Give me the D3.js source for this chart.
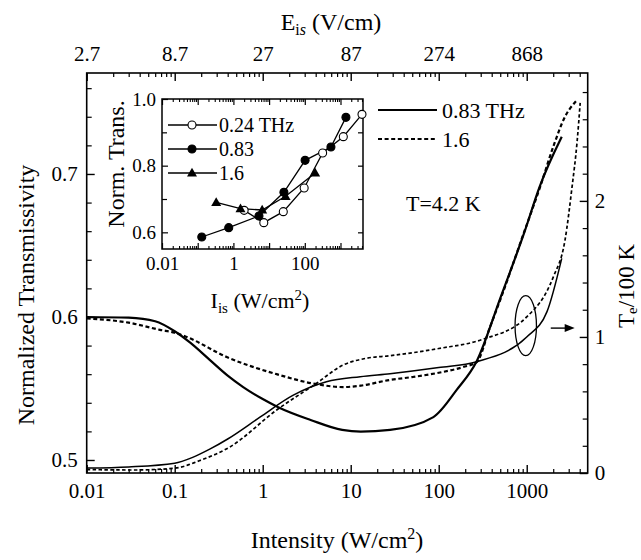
<!DOCTYPE html>
<html><head><meta charset="utf-8">
<script src="https://cdn.jsdelivr.net/npm/d3@7"></script>
<style>
body{margin:0;background:#fff}
svg{display:block}
text{font-family:"Liberation Serif","Times New Roman",serif;fill:#000}
</style>
</head><body>
<svg id="c" width="641" height="560"></svg>
<script>
// ---------- data ----------
// Main panel: Normalized transmissivity (left axis)
const iTrans083 = [0.01, 0.03, 0.06, 0.1, 0.15, 0.25, 0.4, 0.6, 1.0, 1.5, 3.5, 8, 13, 28, 87, 160, 270, 500, 950, 1400, 2500];
const trans083  = [0.600, 0.5995, 0.597, 0.590, 0.582, 0.570, 0.559, 0.551, 0.5426, 0.5369, 0.528, 0.521, 0.5198, 0.521, 0.530, 0.549, 0.569, 0.613, 0.660, 0.691, 0.726];
const iTrans16  = [0.01, 0.03, 0.068, 0.1, 0.137, 0.39, 1.44, 4.1, 8.2, 13, 28, 50, 100, 190, 270, 383, 500, 955, 1420, 2000, 2720, 3650];
const trans16   = [0.599, 0.596, 0.591, 0.589, 0.586, 0.572, 0.560, 0.553, 0.551, 0.552, 0.556, 0.558, 0.561, 0.565, 0.5685, 0.593, 0.612, 0.661, 0.691, 0.719, 0.740, 0.751];
// Main panel: electron temperature Te/100 K (right axis)
const iTe083 = [0.01, 0.03, 0.1, 0.16, 0.25, 0.4, 0.93, 2.2, 5.3, 12.8, 28, 100, 270, 1000, 1700, 2500];
const te083  = [0.037, 0.045, 0.072, 0.115, 0.175, 0.25, 0.41, 0.57, 0.67, 0.708, 0.73, 0.775, 0.818, 1.0, 1.186, 1.578];
const iTe16  = [0.01, 0.034, 0.1, 0.19, 0.42, 1.44, 4.1, 8.2, 15, 28, 100, 300, 1000, 2000, 2720, 3270, 3730, 4050];
const te16   = [0.025, 0.022, 0.035, 0.09, 0.19, 0.463, 0.66, 0.794, 0.843, 0.862, 0.915, 0.978, 1.147, 1.44, 1.71, 2.10, 2.43, 2.72];
// Inset: measured normalized transmission
const iIn024 = [2.0, 7.1, 25, 96, 316, 1200, 4000];
const vIn024 = [0.666, 0.629, 0.662, 0.733, 0.838, 0.887, 0.954];
const iIn083 = [0.13, 0.74, 5.2, 26, 102, 540, 1420];
const vIn083 = [0.586, 0.614, 0.649, 0.720, 0.816, 0.856, 0.945];
const iIn16  = [0.33, 1.58, 6.4, 29, 195];
const vIn16  = [0.690, 0.671, 0.667, 0.708, 0.778];
// tick labels
const bottomTicks = [0.01, 0.1, 1, 10, 100, 1000];
const bottomLabels = ["0.01", "0.1", "1", "10", "100", "1000"];
const topLabels = ["2.7", "8.7", "27", "87", "274", "868"];
const leftTicks = [0.5, 0.6, 0.7];
const rightTicks = [0, 1, 2];
const insetXTicks = [0.01, 1, 100];
const insetXLabels = ["0.01", "1", "100"];
const insetYTicks = [0.6, 0.8, 1.0];
const mainLegend = ["0.83 THz", "1.6"];
const insetLegend = ["0.24 THz", "0.83", "1.6"];

// ---------- helpers ----------
const svg = d3.select("#c");
const zip = (a, b) => a.map((v, i) => [v, b[i]]);
function logMinors(dom) {
  const out = [];
  for (let e = Math.floor(Math.log10(dom[0])); e <= Math.ceil(Math.log10(dom[1])); e++)
    for (let m = 2; m <= 9; m++) { const v = m * Math.pow(10, e); if (v > dom[0] && v < dom[1]) out.push(v); }
  return out;
}
function linMinors(a, b, step, majors) {
  const out = [];
  for (let v = a; v <= b + 1e-9; v += step) {
    const r = Math.round(v * 1000) / 1000;
    if (!majors.some(m => Math.abs(m - r) < 1e-6)) out.push(r);
  }
  return out;
}
function axis(g, gen, sw) {
  g.call(gen);
  g.select(".domain").remove();
  g.selectAll(".tick line").attr("stroke", "#000").attr("stroke-width", sw);
  g.selectAll(".tick text").attr("fill", "#000").style("font-family", '"Liberation Serif","Times New Roman",serif');
  return g;
}

// ---------- main panel ----------
const L = 86.7, R = 587.7, T = 73, B = 473;
const x = d3.scaleLog().domain([0.01, 4930]).range([L, R]);
const yL = d3.scaleLinear().domain([0.4909, 0.7706]).range([B, T]);
const yR = d3.scaleLinear().domain([0, 2.94]).range([B, T]);

// bottom
axis(svg.append("g").attr("transform", `translate(0,${B})`),
  d3.axisBottom(x).tickValues(bottomTicks).tickSize(-8).tickSizeOuter(0).tickPadding(10)
    .tickFormat((d, i) => bottomLabels[i]), 1.4).selectAll("text").style("font-size", "21px");
axis(svg.append("g").attr("transform", `translate(0,${B})`),
  d3.axisBottom(x).tickValues(logMinors(x.domain())).tickSize(-4).tickSizeOuter(0).tickFormat(""), 1.2);
// top
axis(svg.append("g").attr("transform", `translate(0,${T})`),
  d3.axisTop(x).tickValues(bottomTicks).tickSize(-8).tickSizeOuter(0).tickPadding(12)
    .tickFormat((d, i) => topLabels[i]), 1.4).selectAll("text").style("font-size", "21px");
axis(svg.append("g").attr("transform", `translate(0,${T})`),
  d3.axisTop(x).tickValues(logMinors(x.domain())).tickSize(-4).tickSizeOuter(0).tickFormat(""), 1.2);
// left
axis(svg.append("g").attr("transform", `translate(${L},0)`),
  d3.axisLeft(yL).tickValues(leftTicks).tickSize(-8).tickSizeOuter(0).tickPadding(9)
    .tickFormat(d3.format(".1f")), 1.4).selectAll("text").style("font-size", "21px");
axis(svg.append("g").attr("transform", `translate(${L},0)`),
  d3.axisLeft(yL).tickValues(linMinors(0.5, 0.76, 0.02, leftTicks)).tickSize(-5).tickSizeOuter(0).tickFormat(""), 1.2);
// right
axis(svg.append("g").attr("transform", `translate(${R},0)`),
  d3.axisRight(yR).tickValues(rightTicks).tickSize(-8).tickSizeOuter(0).tickPadding(7)
    .tickFormat(d3.format("d")), 1.4).selectAll("text").style("font-size", "21px");
axis(svg.append("g").attr("transform", `translate(${R},0)`),
  d3.axisRight(yR).tickValues(linMinors(0, 2.8, 0.2, rightTicks)).tickSize(-5).tickSizeOuter(0).tickFormat(""), 1.2);

svg.append("rect").attr("x", L).attr("y", T).attr("width", R - L).attr("height", B - T)
  .attr("fill", "none").attr("stroke", "#000").attr("stroke-width", 1.6);

// curves
const lineL = d3.line().x(d => x(d[0])).y(d => yL(d[1])).curve(d3.curveMonotoneX);
const lineR = d3.line().x(d => x(d[0])).y(d => yR(d[1])).curve(d3.curveMonotoneX);
const dash = "4,2.6";
svg.append("path").attr("d", lineL(zip(iTrans083, trans083))).attr("fill", "none").attr("stroke", "#000").attr("stroke-width", 2.2);
svg.append("path").attr("d", lineL(zip(iTrans16, trans16))).attr("fill", "none").attr("stroke", "#000").attr("stroke-width", 2.2).attr("stroke-dasharray", dash);
svg.append("path").attr("d", lineR(zip(iTe083, te083))).attr("fill", "none").attr("stroke", "#000").attr("stroke-width", 1.5);
svg.append("path").attr("d", lineR(zip(iTe16, te16))).attr("fill", "none").attr("stroke", "#000").attr("stroke-width", 1.7).attr("stroke-dasharray", "3.5,2.4");

// ellipse + arrow (marks Te curves belong to right axis)
svg.append("ellipse").attr("cx", x(975)).attr("cy", yR(1.083)).attr("rx", 10.7).attr("ry", 30)
  .attr("fill", "none").attr("stroke", "#000").attr("stroke-width", 1.3);
const ay = yR(1.065);
svg.append("line").attr("x1", x(975) + 25).attr("x2", R - 20).attr("y1", ay).attr("y2", ay).attr("stroke", "#000").attr("stroke-width", 1.4);
svg.append("path").attr("d", `M${R - 13},${ay} L${R - 23},${ay - 4} L${R - 23},${ay + 4} Z`).attr("fill", "#000");

// legend
const legY = [110, 139];
svg.append("line").attr("x1", 378).attr("x2", 437).attr("y1", legY[0]).attr("y2", legY[0]).attr("stroke", "#000").attr("stroke-width", 2.2);
svg.append("line").attr("x1", 378).attr("x2", 437).attr("y1", legY[1]).attr("y2", legY[1]).attr("stroke", "#000").attr("stroke-width", 2.2).attr("stroke-dasharray", dash);
mainLegend.forEach((t, i) => svg.append("text").attr("x", 442).attr("y", legY[i]).attr("dy", "0.35em").style("font-size", "22px").text(t));
svg.append("text").attr("x", 406).attr("y", 203).attr("dy", "0.35em").style("font-size", "22px").text("T=4.2 K");

// axis titles
const tTop = svg.append("text").attr("x", 331).attr("y", 22).attr("dy", "0.35em").attr("text-anchor", "middle").style("font-size", "24px");
tTop.append("tspan").text("E");
tTop.append("tspan").attr("dy", 5).style("font-size", "16px").text("i");
tTop.append("tspan").style("font-size", "16px").style("font-style", "italic").text("s");
tTop.append("tspan").attr("dy", -5).text(" (V/cm)");

const tBot = svg.append("text").attr("x", 337).attr("y", 540).attr("dy", "0.35em").attr("text-anchor", "middle").style("font-size", "24px");
tBot.append("tspan").text("Intensity (W/cm");
tBot.append("tspan").attr("dy", -9).style("font-size", "16px").text("2");
tBot.append("tspan").attr("dy", 9).text(")");

svg.append("text").attr("transform", "translate(26,295) rotate(-90)").attr("dy", "0.35em").attr("text-anchor", "middle")
  .style("font-size", "24px").text("Normalized Transmissivity");

const tRight = svg.append("text").attr("transform", "translate(634,286) rotate(-90)").attr("text-anchor", "middle").style("font-size", "23px");
tRight.append("tspan").text("T");
tRight.append("tspan").attr("dy", 3).style("font-size", "15px").text("e");
tRight.append("tspan").attr("dy", -3).text("/100 K");

// ---------- inset ----------
const iL = 162, iR = 363, iT = 99, iB = 249;
const xi = d3.scaleLog().domain([0.01, 4270]).range([iL, iR]);
const yi = d3.scaleLinear().domain([0.55, 1.0]).range([iB, iT]);

axis(svg.append("g").attr("transform", `translate(0,${iB})`),
  d3.axisBottom(xi).tickValues([0.01, 0.1, 1, 10, 100, 1000]).tickSize(-6).tickSizeOuter(0).tickFormat(""), 1.2);
axis(svg.append("g").attr("transform", `translate(0,${iB})`),
  d3.axisBottom(xi).tickValues(insetXTicks).tickSize(0).tickSizeOuter(0).tickPadding(8)
    .tickFormat((d, i) => insetXLabels[i]), 1.2).selectAll("text").style("font-size", "19px");
axis(svg.append("g").attr("transform", `translate(0,${iB})`),
  d3.axisBottom(xi).tickValues(logMinors(xi.domain())).tickSize(-3).tickSizeOuter(0).tickFormat(""), 1.1);
axis(svg.append("g").attr("transform", `translate(0,${iT})`),
  d3.axisTop(xi).tickValues([0.01, 0.1, 1, 10, 100, 1000]).tickSize(-6).tickSizeOuter(0).tickFormat(""), 1.2);
axis(svg.append("g").attr("transform", `translate(0,${iT})`),
  d3.axisTop(xi).tickValues(logMinors(xi.domain())).tickSize(-3).tickSizeOuter(0).tickFormat(""), 1.1);
axis(svg.append("g").attr("transform", `translate(${iL},0)`),
  d3.axisLeft(yi).tickValues(insetYTicks).tickSize(-6).tickSizeOuter(0).tickPadding(6)
    .tickFormat(d3.format(".1f")), 1.2).selectAll("text").style("font-size", "19px");
axis(svg.append("g").attr("transform", `translate(${iL},0)`),
  d3.axisLeft(yi).tickValues([0.7, 0.9]).tickSize(-5).tickSizeOuter(0).tickFormat(""), 1.2);
axis(svg.append("g").attr("transform", `translate(${iR},0)`),
  d3.axisRight(yi).tickValues([0.6, 0.7, 0.8, 0.9]).tickSize(-5).tickSizeOuter(0).tickFormat(""), 1.2);

svg.append("rect").attr("x", iL).attr("y", iT).attr("width", iR - iL).attr("height", iB - iT)
  .attr("fill", "none").attr("stroke", "#000").attr("stroke-width", 1.5);

const lineI = d3.line().x(d => xi(d[0])).y(d => yi(d[1]));
const inSeries = [
  {d: zip(iIn024, vIn024), m: "open"},
  {d: zip(iIn083, vIn083), m: "filled"},
  {d: zip(iIn16, vIn16), m: "tri"}
];
function marker(g, cx, cy, m) {
  if (m === "tri") g.append("path").attr("d", `M${cx},${cy - 5.2} L${cx + 5},${cy + 3.6} L${cx - 5},${cy + 3.6} Z`).attr("fill", "#000");
  else g.append("circle").attr("cx", cx).attr("cy", cy).attr("r", 4).attr("fill", m === "open" ? "#fff" : "#000").attr("stroke", "#000").attr("stroke-width", 1.1);
}
inSeries.forEach(s => {
  svg.append("path").attr("d", lineI(s.d)).attr("fill", "none").attr("stroke", "#000").attr("stroke-width", 1.3);
});
inSeries.forEach(s => {
  const g = svg.append("g");
  s.d.forEach(p => marker(g, xi(p[0]), yi(p[1]), s.m));
});
// inset legend
const ilY = [125, 149, 173];
inSeries.forEach((s, i) => {
  svg.append("line").attr("x1", 168).attr("x2", 217).attr("y1", ilY[i]).attr("y2", ilY[i]).attr("stroke", "#000").attr("stroke-width", 1.3);
  marker(svg, 192, ilY[i], s.m);
  svg.append("text").attr("x", 219).attr("y", ilY[i]).attr("dy", "0.35em").style("font-size", "20px").text(insetLegend[i]);
});
// inset titles
svg.append("text").attr("transform", "translate(116,164) rotate(-90)").attr("dy", "0.35em").attr("text-anchor", "middle")
  .style("font-size", "24px").text("Norm. Trans.");
const tIn = svg.append("text").attr("x", 260).attr("y", 300).attr("dy", "0.35em").attr("text-anchor", "middle").style("font-size", "22px");
tIn.append("tspan").text("I");
tIn.append("tspan").attr("dy", 5).style("font-size", "15px").text("is");
tIn.append("tspan").attr("dy", -5).text(" (W/cm");
tIn.append("tspan").attr("dy", -8).style("font-size", "15px").text("2");
tIn.append("tspan").attr("dy", 8).text(")");
</script>
</body></html>
